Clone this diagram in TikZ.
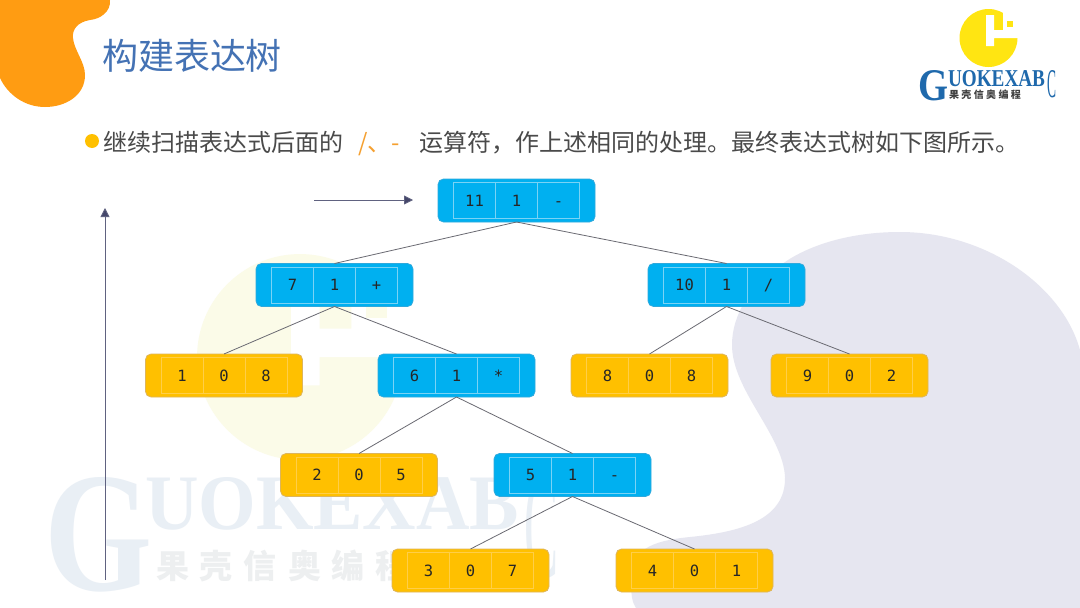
\documentclass[tikz,border=0pt]{standalone}
\usepackage{fontspec}
\usepackage{graphicx}
\setmainfont{Noto Sans CJK SC}
\newfontfamily\digitfont{DejaVu Sans Mono}
\newfontfamily\logoserif{Liberation Serif}
\usetikzlibrary{arrows.meta}
\definecolor{blobcol}{HTML}{FF9C12}
\definecolor{titlecol}{HTML}{4472B4}
\definecolor{bodycol}{HTML}{4A4A4A}
\definecolor{hintcol}{HTML}{F5A030}
\definecolor{bulletcol}{HTML}{FFC000}
\definecolor{lav}{HTML}{E6E6F0}
\definecolor{paleyel}{HTML}{FBFBE8}
\definecolor{palewm}{HTML}{E9EFF5}
\definecolor{palecn}{HTML}{EDEFF0}
\definecolor{logoblue}{HTML}{1F69AC}
\definecolor{logoyel}{HTML}{FFE512}
\definecolor{blueface}{HTML}{00B0F0}
\definecolor{blueedge}{HTML}{2FA9DC}
\definecolor{blueline}{HTML}{7AD3F5}
\definecolor{goldface}{HTML}{FFC000}
\definecolor{goldedge}{HTML}{DDB55C}
\definecolor{goldline}{HTML}{FFCE48}
\definecolor{linkcol}{HTML}{6A6A72}
\definecolor{arrowcol}{HTML}{44466A}
\tikzset{
  plain/.style={inner sep=0pt,outer sep=0pt},
  boxbase/.style={plain,draw,rounded corners=5.5pt,minimum width=157pt,minimum height=43pt,line width=0.8pt},
  bluebox/.style={boxbase,fill=blueface,draw=blueedge},
  goldbox/.style={boxbase,fill=goldface,draw=goldedge},
  bluecell/.style={draw=blueline},
  goldcell/.style={draw=goldline},
  cellnode/.style={plain,line width=0.8pt,minimum width=42pt,minimum height=36pt,text height=11pt,text depth=0pt,text=black!85,font=\digitfont\fontsize{15.5}{15.5}\selectfont},
  link/.style={draw=linkcol,line width=0.8pt},
  guide/.style={draw=arrowcol!85,line width=0.8pt,-{Triangle[length=9pt,width=9pt,fill=arrowcol]}}
}
\newcommand{\treebox}[7]{%
  \node[#7box] (#1) at (#2,#3) {};
  \node[cellnode,#7cell] (#1-b) at (#2,#3) {#5};
  \node[cellnode,#7cell,anchor=east] (#1-a) at (#1-b.west) {#4};
  \node[cellnode,#7cell,anchor=west] (#1-c) at (#1-b.east) {#6};
}
\newcommand{\gkname}[1]{果\hspace{#1}壳\hspace{#1}信\hspace{#1}奥\hspace{#1}编\hspace{#1}程}
\newcommand{\gmark}[4]{%
  \begin{scope}[shift={(#1,#2)},scale=#3]
    \fill[#4] (0,0) circle[radius=29];
    \fill[white] (-2.5,-23) -- (5.5,-23) -- (5.5,-8) -- (14.5,-8) -- (14.5,-33) -- (33,-33) -- (33,0) -- (5.5,0) -- (5.5,8) -- (-2.5,8) -- cycle;
    \fill[#4] (18.5,-17) rectangle (24.5,-11);
  \end{scope}
}
\begin{document}
\begin{tikzpicture}[x=1pt,y=-1pt]
\useasboundingbox (0,0) rectangle (1080,608);
\fill[white] (0,0) rectangle (1080,608);
% lavender backdrop
\fill[lav] (1080,608) -- (1080,350)
  .. controls (1062,285) and (985,232) .. (900,232)
  .. controls (850,232) and (810,245) .. (785,262)
  .. controls (750,285) and (732,315) .. (732,345)
  .. controls (732,390) and (783,435) .. (785,477)
  .. controls (786,520) and (740,532) .. (690,537)
  .. controls (650,541) and (631,550) .. (631,580)
  .. controls (631,595) and (632,602) .. (636,608) -- cycle;
% watermark
\gmark{300}{357}{3.55}{paleyel}
\node[plain,anchor=north west] (wmG) at (45,477) {\resizebox{108pt}{113pt}{\logoserif\bfseries\color{palewm}G}};
\node[plain,anchor=north west] (wmT) at (145,477) {\resizebox{374pt}{52pt}{\logoserif\bfseries\color{palewm}UOKEXAB}};
\node[plain,anchor=north west] (wmC) at (524,477) {\resizebox{34pt}{100pt}{\logoserif\color{palewm}C}};
\node[plain,anchor=base west,text=palecn,font=\fontsize{33}{33}\selectfont\bfseries] (wmN) at (156,578) {\gkname{11pt}};
% orange blob
\fill[blobcol] (0,0) -- (110,0)
  .. controls (111,12) and (100,19) .. (90,20)
  .. controls (78,22) and (72,29) .. (73,38)
  .. controls (74,50) and (85,62) .. (85,75)
  .. controls (85,96) and (65,107) .. (45,107)
  .. controls (25,107) and (8,95) .. (0,78) -- cycle;
% title
\node[plain,anchor=base west,text=titlecol,font=\fontsize{36}{36}\selectfont] (title) at (102,69) {构建表达树};
% logo
\gmark{988.5}{38}{1}{logoyel}
\node[plain,anchor=north west] (lgG) at (918,70) {\resizebox{30pt}{30pt}{\logoserif\bfseries\color{logoblue}G}};
\node[plain,anchor=north west] (lgT) at (948,70) {\resizebox{97pt}{16pt}{\logoserif\bfseries\color{logoblue}UOKEXAB}};
\node[plain,anchor=north west] (lgC) at (1047,70) {\resizebox{9pt}{27pt}{\logoserif\color{logoblue}C}};
\node[plain,anchor=base west,text=black!75,font=\fontsize{10}{10}\selectfont\bfseries] (lgN) at (949,98) {\gkname{2.4pt}};
% bullet line
\node[plain,circle,fill=bulletcol,minimum size=14pt] (dot) at (92,141) {};
\node[plain,anchor=base west,text=bodycol,font=\fontsize{24}{24}\selectfont] (lead) at (103,151) {继续扫描表达式后面的};
\node[plain,anchor=base west,text=hintcol,font=\fontsize{24}{24}\selectfont] (ops) at (358,151) {/、-};
\node[plain,anchor=base west,text=bodycol,font=\fontsize{24}{24}\selectfont] (rest) at (419,151) {运算符，作上述相同的处理。最终表达式树如下图所示。};
% tree
\treebox{root}{516.5}{200.5}{11}{1}{-}{blue}
\treebox{plus}{334.5}{285}{7}{1}{+}{blue}
\treebox{div}{726.5}{285}{10}{1}{/}{blue}
\treebox{leafa}{224}{375.5}{1}{0}{8}{gold}
\treebox{mul}{456.5}{375.5}{6}{1}{*}{blue}
\treebox{leafb}{649.5}{375.5}{8}{0}{8}{gold}
\treebox{leafc}{849.5}{375.5}{9}{0}{2}{gold}
\treebox{leafd}{359}{475}{2}{0}{5}{gold}
\treebox{minus}{572.5}{475}{5}{1}{-}{blue}
\treebox{leafe}{470.5}{570.5}{3}{0}{7}{gold}
\treebox{leaff}{694.5}{570.5}{4}{0}{1}{gold}
\foreach \p/\c in {root/plus,root/div,plus/leafa,plus/mul,div/leafb,div/leafc,mul/leafd,mul/minus,minus/leafe,minus/leaff}{
  \draw[link] (\p.south) -- (\c.north);
}
% guides
\coordinate (hs) at (314,200);
\coordinate (he) at (413,200);
\coordinate (vs) at (105,580);
\coordinate (ve) at (105,208);
\draw[guide] (hs) -- (he);
\draw[guide] (vs) -- (ve);
\end{tikzpicture}
\end{document}
